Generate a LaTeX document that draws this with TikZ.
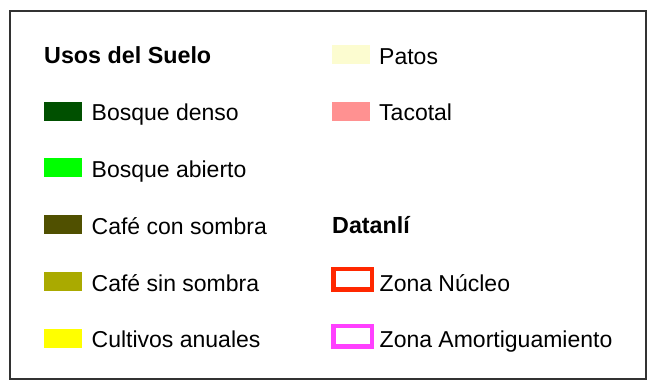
\documentclass[tikz,border=0pt]{standalone}
\usepackage{fontspec}
\setmainfont{Liberation Sans}
\definecolor{bdenso}{RGB}{0,80,0}
\definecolor{babierto}{RGB}{0,255,0}
\definecolor{ccon}{RGB}{80,80,0}
\definecolor{csin}{RGB}{170,170,0}
\definecolor{cult}{RGB}{255,255,0}
\definecolor{patos}{RGB}{252,252,208}
\definecolor{tacotal}{RGB}{255,145,145}
\definecolor{nucleo}{RGB}{255,40,0}
\definecolor{amort}{RGB}{255,64,255}
\definecolor{frame}{RGB}{50,50,50}
\tikzset{
  swatch/.style={rectangle, inner sep=0pt, minimum width=38pt, minimum height=19pt, anchor=south west, fill=#1},
  ring/.style={rectangle, inner sep=0pt, minimum width=38.5pt, minimum height=20.5pt, anchor=south west, draw=#1, line width=4.3pt},
  lbl/.style={anchor=base west, inner sep=0pt, font=\fontsize{23}{27}\selectfont},
  hdr/.style={anchor=base west, inner sep=0pt, font=\fontsize{23.3}{27}\selectfont\bfseries},
}
\begin{document}
\begin{tikzpicture}[x=1pt,y=-1pt]
\useasboundingbox (0,0) rectangle (653,382);
\draw[frame, line width=1.3pt] (10,11) rectangle (646,379);
% left column
\node[hdr] (h1) at (44,64) {Usos del Suelo};
\node[swatch=bdenso] (s1) at (44,121) {};
\node[lbl] (t1) at (91.5,121) {Bosque denso};
\node[swatch=babierto] (s2) at (44,177.7) {};
\node[lbl] (t2) at (91.5,177.7) {Bosque abierto};
\node[swatch=ccon] (s3) at (44,234.3) {};
\node[lbl] (t3) at (91.5,234.3) {Café con sombra};
\node[swatch=csin] (s4) at (44,291) {};
\node[lbl] (t4) at (91.5,291) {Café sin sombra};
\node[swatch=cult] (s5) at (44,347.7) {};
\node[lbl] (t5) at (91.5,347.7) {Cultivos anuales};
% right column
\node[swatch=patos] (s6) at (332,64.5) {};
\node[lbl] (t6) at (379,64.5) {Patos};
\node[swatch=tacotal] (s7) at (332,121) {};
\node[lbl] (t7) at (379,121) {Tacotal};
\node[hdr] (h2) at (332,233.5) {Datanlí};
\node[ring=nucleo] (s8) at (331.3,291.7) {};
\node[lbl] (t8) at (379.5,291) {Zona Núcleo};
\node[ring=amort] (s9) at (331.3,348.7) {};
\node[lbl] (t9) at (379.5,347.7) {Zona Amortiguamiento};
\end{tikzpicture}
\end{document}
